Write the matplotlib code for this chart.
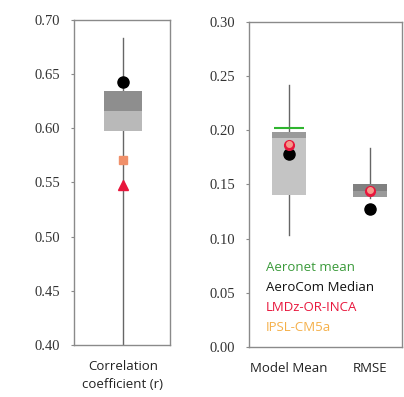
import numpy as np
import matplotlib
matplotlib.use("Agg")
import matplotlib.pyplot as plt

# correlation panel
corr_whisker = [0.40, 0.683]
corr_q1, corr_med, corr_q3 = 0.597, 0.616, 0.634
corr_aerocom = 0.643
corr_lmdz = 0.548
corr_ipsl = 0.571

# model mean / rmse panel
cats = ["Model Mean", "RMSE"]
whisk_lo = [0.103, 0.137]
whisk_hi = [0.242, 0.184]
q1 = [0.140, 0.138]
med = [0.193, 0.144]
q3 = [0.198, 0.150]
aeronet = [0.202]
aerocom = [0.178, 0.127]
lmdz = [0.186, 0.144]
ipsl = [0.187, 0.145]

legend_items = [("Aeronet mean", "#3a9a3a"), ("AeroCom Median", "#111111"),
                ("LMDz-OR-INCA", "#e8163c"), ("IPSL-CM5a", "#f5b04a")]

plt.rcParams["font.family"] = ["Liberation Serif", "DejaVu Serif"]
spine_col = "#8a8a8a"
sans = ["Open Sans", "DejaVu Sans"]

fig = plt.figure(figsize=(4.04, 3.97), dpi=100)
ax1 = fig.add_axes([0.183, 0.131, 0.238, 0.819])
ax2 = fig.add_axes([0.616, 0.126, 0.379, 0.819])

for ax in (ax1, ax2):
    for s in ax.spines.values():
        s.set_color(spine_col)
        s.set_linewidth(1.0)
    ax.tick_params(axis="y", length=2, color=spine_col, labelsize=10.5, labelcolor="#333333", pad=8)
    ax.tick_params(axis="x", length=0, labelcolor="#222222", pad=11)

# left panel
x0 = 0.0
bw = 0.79
ax1.plot([x0, x0], corr_whisker, color="#666666", lw=1, zorder=1)
ax1.bar(x0, corr_med - corr_q1, bottom=corr_q1, width=bw, color="#b9b9b9", zorder=2)
ax1.bar(x0, corr_q3 - corr_med, bottom=corr_med, width=bw, color="#8e8e8e", zorder=2)
ax1.plot([x0], [corr_aerocom], "o", color="black", ms=8, zorder=4)
ax1.plot([x0], [corr_ipsl], "s", color="#f0906a", ms=6, zorder=4)
ax1.plot([x0], [corr_lmdz], "^", color="#e8163c", ms=7, zorder=4)
ax1.set_xlim(-1.02, 0.98)
ax1.set_ylim(0.40, 0.70)
ax1.set_yticks(np.arange(0.40, 0.701, 0.05))
ax1.set_yticklabels([f"{v:.2f}" for v in np.arange(0.40, 0.701, 0.05)])
ax1.set_xticks([x0])
ax1.set_xticklabels(["Correlation\ncoefficient (r)"], fontfamily=sans, fontsize=9.5, linespacing=1.5)

# right panel
xs = np.arange(1, len(cats) + 1)
bw2 = 0.41
lo_cols = ["#c4c4c4", "#9a9a9a"]
hi_cols = ["#9a9a9a", "#808080"]
for i, x in enumerate(xs):
    ax2.plot([x, x], [whisk_lo[i], whisk_hi[i]], color="#666666", lw=1, zorder=1)
    ax2.bar(x, med[i] - q1[i], bottom=q1[i], width=bw2, color=lo_cols[i], zorder=2)
    ax2.bar(x, q3[i] - med[i], bottom=med[i], width=bw2, color=hi_cols[i], zorder=2)
ax2.plot(xs[:1], aeronet, "_", color="#2fb52f", ms=22, mew=1.5, zorder=5)
ax2.plot(xs, aerocom, "o", color="black", ms=8, zorder=3)
ax2.plot(xs, lmdz, "o", color="#e8163c", ms=7, zorder=4)
ax2.plot(xs, ipsl, "o", color="#f59a8a", ms=4, zorder=5)
ax2.set_xlim(0.506, 2.395)
ax2.set_ylim(0.0, 0.30)
ax2.set_yticks(np.arange(0.0, 0.301, 0.05))
ax2.set_yticklabels([f"{v:.2f}" for v in np.arange(0.0, 0.301, 0.05)])
ax2.set_xticks(xs)
ax2.set_xticklabels(cats, fontfamily=sans, fontsize=9.5)

for k, (txt, col) in enumerate(legend_items):
    ax2.text(0.11, 0.245 - k * 0.062, txt, transform=ax2.transAxes, color=col,
             fontsize=9.5, fontfamily=sans, va="center", ha="left")

fig.savefig("out.png", dpi=100)
